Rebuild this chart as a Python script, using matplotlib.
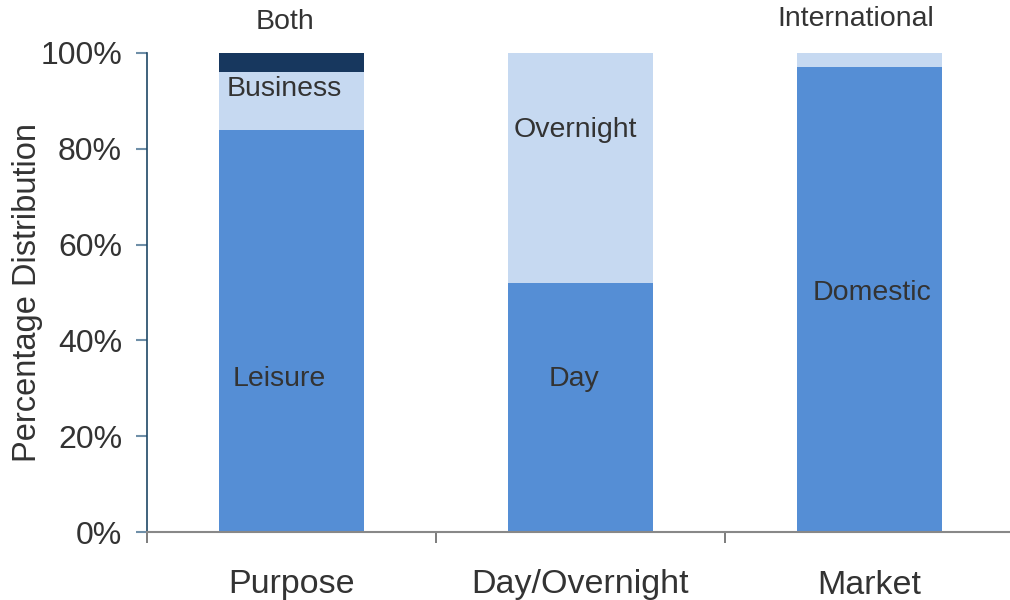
import matplotlib
matplotlib.use("Agg")
import matplotlib.pyplot as plt
from matplotlib.ticker import FixedLocator, PercentFormatter

plt.rcParams['font.family'] = ['Liberation Sans', 'DejaVu Sans']

categories = ["Purpose", "Day/Overnight", "Market"]
# stacked segments per category: (label, share %)
bottom_labels = ["Leisure", "Day", "Domestic"]
bottom_values = [84, 52, 97]
middle_labels = ["Business", "Overnight", "International"]
middle_values = [12, 48, 3]
top_labels = ["Both", "", ""]
top_values = [4, 0, 0]

c_main = "#558ed5"
c_light = "#c6d9f1"
c_dark = "#17375e"
txt = "#333333"

fig = plt.figure(figsize=(10.10, 6.00), dpi=100)
ax = fig.add_axes([147 / 1010, 1 - 532 / 600, 867 / 1010, (532 - 53) / 600])

x = list(range(len(categories)))
w = 0.5
ax.bar(x, bottom_values, width=w, color=c_main, zorder=2)
mid_bottom = bottom_values
ax.bar(x, middle_values, width=w, bottom=mid_bottom, color=c_light, zorder=2)
top_bottom = [b + m for b, m in zip(bottom_values, middle_values)]
ax.bar(x, top_values, width=w, bottom=top_bottom, color=c_dark, zorder=2)

ax.set_xlim(-0.5, 2.5)
ax.set_ylim(0, 100)

# segment labels (positions in data units)
bottom_label_x = [-0.041, 0.976, 2.009]
bottom_label_y = [32.0, 32.0, 50.0]
middle_label_x = [-0.026, 0.983, 1.952]
middle_label_y = [92.5, 84.0, 107.0]
for i in x:
    ax.text(bottom_label_x[i], bottom_label_y[i], bottom_labels[i], ha="center",
            va="center", fontsize=20.5, color=txt)
    ax.text(middle_label_x[i], middle_label_y[i], middle_labels[i], ha="center",
            va="center", fontsize=20.5, color=txt, clip_on=False)
    if top_labels[i]:
        ax.text(i - 0.024, 106.4, top_labels[i], ha="center", va="center",
                fontsize=20.5, color=txt, clip_on=False)

# axes styling
for s in ("top", "right"):
    ax.spines[s].set_visible(False)
ax.spines["left"].set_color("#1f4866")
ax.spines["left"].set_linewidth(1.2)
ax.spines["bottom"].set_color("#888888")
ax.spines["bottom"].set_linewidth(1.5)

ax.yaxis.set_major_locator(FixedLocator([0, 20, 40, 60, 80, 100]))
ax.yaxis.set_major_formatter(PercentFormatter(decimals=0))
ax.tick_params(axis="y", direction="out", length=8, width=1.5, color="#6f8fa8",
               labelsize=23, labelcolor=txt, pad=10)

ax.set_xticks([-0.5, 0.5, 1.5])
ax.set_xticklabels(["", "", ""])
ax.set_xticks(x, minor=True)
ax.set_xticklabels(categories, minor=True)
ax.tick_params(axis="x", which="major", direction="out", length=8, width=1.2,
               color="#666666")
ax.tick_params(axis="x", which="minor", length=0, labelsize=24.5, labelcolor=txt, pad=27)

ax.set_ylabel("Percentage Distribution", fontsize=23.5, color=txt)
ax.yaxis.set_label_coords(-0.12, 0.5)

fig.savefig("out.png", dpi=100)
